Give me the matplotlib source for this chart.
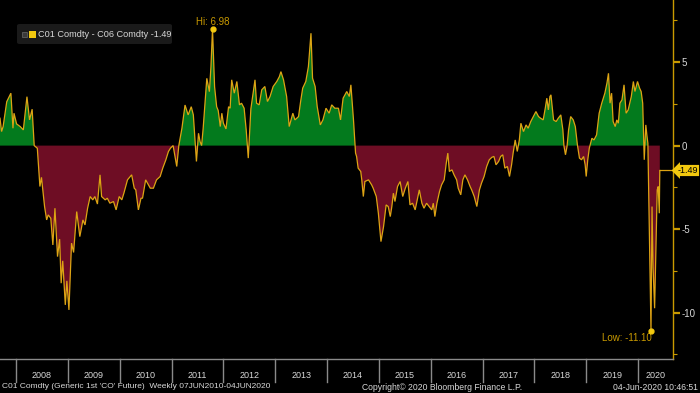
import matplotlib
matplotlib.use("Agg")
import matplotlib.pyplot as plt
import numpy as np
from matplotlib.patches import FancyBboxPatch, Rectangle
from matplotlib.ticker import MultipleLocator, FuncFormatter

# ---- data (fractional year, CO1 - CO6 spread in USD) ----
years = [
    2007.69, 2007.72, 2007.75, 2007.82, 2007.90, 2007.94, 2007.96, 2008.01, 2008.08, 2008.14,
    2008.21, 2008.26, 2008.31, 2008.35, 2008.41, 2008.46, 2008.49, 2008.55, 2008.59, 2008.62,
    2008.67, 2008.71, 2008.75, 2008.80, 2008.84, 2008.87, 2008.90, 2008.95, 2008.98, 2009.02,
    2009.07, 2009.11, 2009.17, 2009.23, 2009.29, 2009.33, 2009.38, 2009.43, 2009.48, 2009.52,
    2009.57, 2009.62, 2009.65, 2009.72, 2009.76, 2009.81, 2009.88, 2009.93, 2009.99, 2010.04,
    2010.08, 2010.15, 2010.23, 2010.28, 2010.31, 2010.36, 2010.41, 2010.44, 2010.50, 2010.59,
    2010.65, 2010.71, 2010.78, 2010.83, 2010.89, 2010.94, 2010.98, 2011.03, 2011.10, 2011.14,
    2011.20, 2011.26, 2011.32, 2011.38, 2011.42, 2011.48, 2011.52, 2011.55, 2011.58, 2011.61,
    2011.68, 2011.73, 2011.76, 2011.79, 2011.83, 2011.87, 2011.90, 2011.94, 2011.97, 2012.00,
    2012.05, 2012.10, 2012.13, 2012.16, 2012.21, 2012.26, 2012.31, 2012.35, 2012.40, 2012.44,
    2012.48, 2012.53, 2012.61, 2012.64, 2012.69, 2012.74, 2012.80, 2012.85, 2012.90, 2012.96,
    2013.03, 2013.08, 2013.11, 2013.16, 2013.22, 2013.27, 2013.34, 2013.38, 2013.45, 2013.49,
    2013.53, 2013.59, 2013.64, 2013.69, 2013.72, 2013.77, 2013.81, 2013.87, 2013.92, 2013.98,
    2014.04, 2014.09, 2014.15, 2014.22, 2014.26, 2014.31, 2014.38, 2014.43, 2014.46, 2014.51,
    2014.55, 2014.57, 2014.60, 2014.65, 2014.67, 2014.70, 2014.73, 2014.80, 2014.86, 2014.89,
    2014.95, 2014.99, 2015.04, 2015.09, 2015.14, 2015.18, 2015.22, 2015.25, 2015.28, 2015.31,
    2015.36, 2015.41, 2015.46, 2015.51, 2015.56, 2015.60, 2015.65, 2015.70, 2015.74, 2015.78,
    2015.83, 2015.87, 2015.92, 2015.97, 2016.02, 2016.05, 2016.08, 2016.12, 2016.17, 2016.21,
    2016.26, 2016.30, 2016.33, 2016.36, 2016.41, 2016.45, 2016.50, 2016.53, 2016.58, 2016.62,
    2016.66, 2016.71, 2016.76, 2016.79, 2016.84, 2016.89, 2016.94, 2016.98, 2017.03, 2017.08,
    2017.13, 2017.18, 2017.22, 2017.26, 2017.31, 2017.35, 2017.39, 2017.43, 2017.48, 2017.52,
    2017.56, 2017.59, 2017.63, 2017.67, 2017.71, 2017.74, 2017.79, 2017.84, 2017.88, 2017.93,
    2017.98, 2018.03, 2018.08, 2018.12, 2018.17, 2018.21, 2018.24, 2018.27, 2018.30, 2018.32,
    2018.37, 2018.42, 2018.46, 2018.51, 2018.55, 2018.57, 2018.60, 2018.63, 2018.66, 2018.70,
    2018.75, 2018.79, 2018.83, 2018.87, 2018.91, 2018.95, 2018.98, 2019.00, 2019.03, 2019.06,
    2019.11, 2019.15, 2019.20, 2019.25, 2019.30, 2019.36, 2019.40, 2019.43, 2019.46, 2019.49,
    2019.52, 2019.56, 2019.59, 2019.62, 2019.65, 2019.69, 2019.73, 2019.77, 2019.81, 2019.87,
    2019.91, 2019.94, 2019.99, 2020.03, 2020.06, 2020.09, 2020.12, 2020.15, 2020.17, 2020.19,
    2020.21, 2020.25, 2020.27, 2020.29, 2020.32, 2020.35, 2020.37, 2020.39, 2020.41, 2020.42,
]
spread = [
    1.64, 0.84, 1.14, 2.63, 3.14, 1.04, 1.94, 1.30, 1.14, 0.94,
    2.93, 1.54, 2.18, 0.00, -0.16, -2.45, -1.90, -3.65, -4.45, -4.15,
    -4.35, -5.95, -3.75, -6.65, -5.60, -8.24, -6.90, -9.54, -8.10, -9.84,
    -5.84, -6.40, -3.95, -5.45, -4.45, -4.75, -3.75, -3.05, -3.25, -3.05,
    -3.50, -1.75, -3.05, -3.25, -3.15, -3.45, -3.35, -3.85, -3.05, -3.25,
    -2.85, -2.05, -1.75, -2.55, -2.65, -3.85, -3.15, -3.15, -2.05, -2.55,
    -2.55, -2.05, -1.85, -1.35, -0.85, -0.35, -0.15, 0.00, -1.25, 0.00,
    1.04, 2.43, 1.84, 2.33, 1.84, -0.95, 0.74, 0.24, 0.00, 1.04,
    4.03, 3.23, 4.73, 6.98, 3.53, 2.33, 2.10, 1.14, 1.94, 1.34,
    1.00, 2.33, 2.24, 3.94, 3.14, 3.84, 2.44, 2.54, 2.24, 0.94,
    -0.75, 2.20, 3.94, 2.54, 2.44, 3.34, 3.54, 2.64, 2.94, 3.54,
    3.84, 4.13, 4.43, 3.94, 2.94, 1.14, 1.94, 1.54, 1.74, 2.64,
    3.44, 3.84, 4.73, 6.73, 4.04, 3.54, 2.34, 1.24, 1.54, 2.24,
    1.94, 2.44, 2.24, 2.24, 1.54, 2.84, 3.24, 2.94, 3.64, 1.54,
    -0.45, -0.65, -1.35, -1.55, -2.05, -3.05, -2.15, -2.05, -2.35, -2.55,
    -3.05, -4.05, -5.75, -4.85, -3.55, -3.65, -4.25, -3.65, -2.85, -3.35,
    -2.45, -2.15, -3.05, -2.55, -2.15, -3.55, -3.45, -3.85, -3.25, -2.65,
    -3.45, -3.75, -3.45, -3.65, -3.85, -3.45, -4.25, -3.45, -2.75, -2.35,
    -2.05, -1.05, -0.45, -1.55, -1.45, -1.75, -2.05, -2.55, -2.95, -2.05,
    -1.75, -2.05, -2.45, -2.65, -3.05, -3.65, -2.65, -2.25, -1.85, -1.25,
    -0.85, -0.70, -0.65, -1.15, -0.95, -0.65, -0.55, -1.35, -1.25, -1.85,
    -1.15, -0.45, 0.34, -0.35, 0.34, 1.34, 0.84, 1.24, 1.04, 1.44,
    1.74, 2.04, 1.74, 1.64, 1.54, 2.24, 2.84, 2.14, 2.94, 3.04,
    1.54, 1.44, 1.64, 1.84, 0.94, 0.00, -0.55, -0.05, 0.94, 1.74,
    1.54, 1.14, 0.05, -0.75, -0.85, -0.65, -1.15, -1.85, -0.85, -0.15,
    0.44, 0.34, 0.64, 1.94, 2.54, 3.14, 3.74, 4.33, 2.54, 3.14,
    1.44, 1.14, 1.54, 1.34, 2.54, 2.74, 3.64, 1.94, 2.14, 2.94,
    3.84, 3.24, 3.84, 3.44, 3.24, 2.54, -0.85, 1.24, 0.64, 0.14,
    -3.65, -11.10, -3.65, -7.30, -9.74, -5.30, -2.65, -2.45, -4.05, -1.49,
]
year_labels = ["2008", "2009", "2010", "2011", "2012", "2013", "2014",
               "2015", "2016", "2017", "2018", "2019", "2020"]
hi_value = 6.98
lo_value = -11.10
last_value = -1.49
legend_text = "C01 Comdty - C06 Comdty -1.49"
footer_left = "C01 Comdty (Generic 1st 'CO' Future)  Weekly 07JUN2010-04JUN2020"
footer_mid = "Copyright\u00a9 2020 Bloomberg Finance L.P."
footer_right = "04-Jun-2020 10:46:51"

# ---- style ----
BG = "black"
GREEN = "#037A1D"
RED = "#6E0D24"
LINE = "#DDA414"
GOLD = "#C99A00"
YELLOW = "#F2C80F"
TXT = "#D8D8D8"
GRAY = "#8A8A8A"
plt.rcParams["font.family"] = ["Liberation Sans", "DejaVu Sans"]

W, H = 700, 393
fig = plt.figure(figsize=(W / 100, H / 100), dpi=100, facecolor=BG)
ax_left, ax_right, ax_top, ax_bot = 0, 672.5, 0, 359
AH = ax_bot - ax_top
ax = fig.add_axes([ax_left / W, (H - ax_bot) / H, (ax_right - ax_left) / W, AH / H])
ax.set_facecolor(BG)

x = np.array(years)
y = np.array(spread)
x0, x1 = 2007.69, 2020.665
ax.set_xlim(x0, x1)
ax.set_ylim(-12.78, 8.72)

ax.fill_between(x, y, 0, where=y >= 0, interpolate=True, color=GREEN, lw=0)
ax.fill_between(x, y, 0, where=y <= 0, interpolate=True, color=RED, lw=0)
ax.plot(x, y, color=LINE, lw=0.9, solid_joinstyle="miter")

# last value connector
ax.plot([x[-1], x1], [last_value, last_value], color=LINE, lw=0.9, clip_on=False)

# Hi / Low markers
i_hi = int(np.argmax(y))
i_lo = int(np.argmin(y))
ax.plot([x[i_hi]], [hi_value], "o", color=YELLOW, ms=3.5, zorder=5)
ax.plot([x[i_lo]], [lo_value], "o", color=YELLOW, ms=3.5, zorder=5)
ax.text(x[i_hi], 7.40, f"Hi: {hi_value:.2f}", color=GOLD, fontsize=7, ha="center", va="center")
ax.text(2019.79, -11.50, f"Low: {lo_value:.2f}", color=GOLD, fontsize=7, ha="center", va="center")

# spines
for s in ["left", "top"]:
    ax.spines[s].set_visible(False)
ax.spines["right"].set_color(GOLD)
ax.spines["right"].set_linewidth(1.0)
ax.spines["bottom"].set_color(GRAY)
ax.spines["bottom"].set_linewidth(1.0)

# y axis right
ax.yaxis.tick_right()
ax.yaxis.set_major_locator(MultipleLocator(5))
ax.yaxis.set_minor_locator(MultipleLocator(2.5))
ax.tick_params(axis="y", which="major", colors=GOLD, labelcolor=TXT, length=5, width=1.6,
               labelsize=7, pad=1.5, direction="out")
ax.tick_params(axis="y", which="minor", colors=GOLD, length=3, width=0.8, direction="out")
ax.yaxis.set_major_formatter(FuncFormatter(lambda v, p: f"{v:g}"))

# x axis: year dividers and centered labels
ax.set_xticks([])
trans = ax.get_xaxis_transform()
for lab in year_labels:
    yr = int(lab)
    ax.plot([yr, yr], [0, -23 / AH], color=GRAY, lw=1.0, transform=trans, clip_on=False)
    right = min(yr + 1, x1)
    ax.text((yr + right) / 2, -16.5 / AH, lab, color=TXT, fontsize=6.5, ha="center",
            va="center", transform=trans)

# last value tag
fig.text(698 / W, 1 - 170.5 / H, f"{last_value:.2f}", color="black", fontsize=6.5,
         ha="right", va="center",
         bbox=dict(boxstyle="larrow,pad=0.12", fc=YELLOW, ec="none"))

# legend box
fig.patches.append(FancyBboxPatch((17 / W, 1 - 44 / H), 155 / W, 20 / H,
                                  boxstyle="round,pad=0,rounding_size=0.004",
                                  transform=fig.transFigure, fc="#1A1A1A", ec="none"))
fig.patches.append(Rectangle((22 / W, 1 - 36.5 / H), 4.5 / W, 4.5 / H, transform=fig.transFigure,
                             fc="#3A3A3A", ec="#6A6A6A", lw=0.5))
fig.patches.append(Rectangle((28.5 / W, 1 - 38 / H), 7 / W, 7 / H, transform=fig.transFigure,
                             fc=YELLOW, ec="none"))
fig.text(38.5 / W, 1 - 34.5 / H, legend_text, color=TXT, fontsize=6.6, ha="left", va="center")

# footer
fy = 1 - 387 / H
fig.text(2 / W, fy, footer_left, color=TXT, fontsize=6.0, ha="left", va="center")
fig.text(442 / W, fy, footer_mid, color=TXT, fontsize=6.2, ha="center", va="center")
fig.text(698 / W, fy, footer_right, color=TXT, fontsize=6.2, ha="right", va="center")

fig.savefig("out.png", dpi=100, facecolor=BG)
